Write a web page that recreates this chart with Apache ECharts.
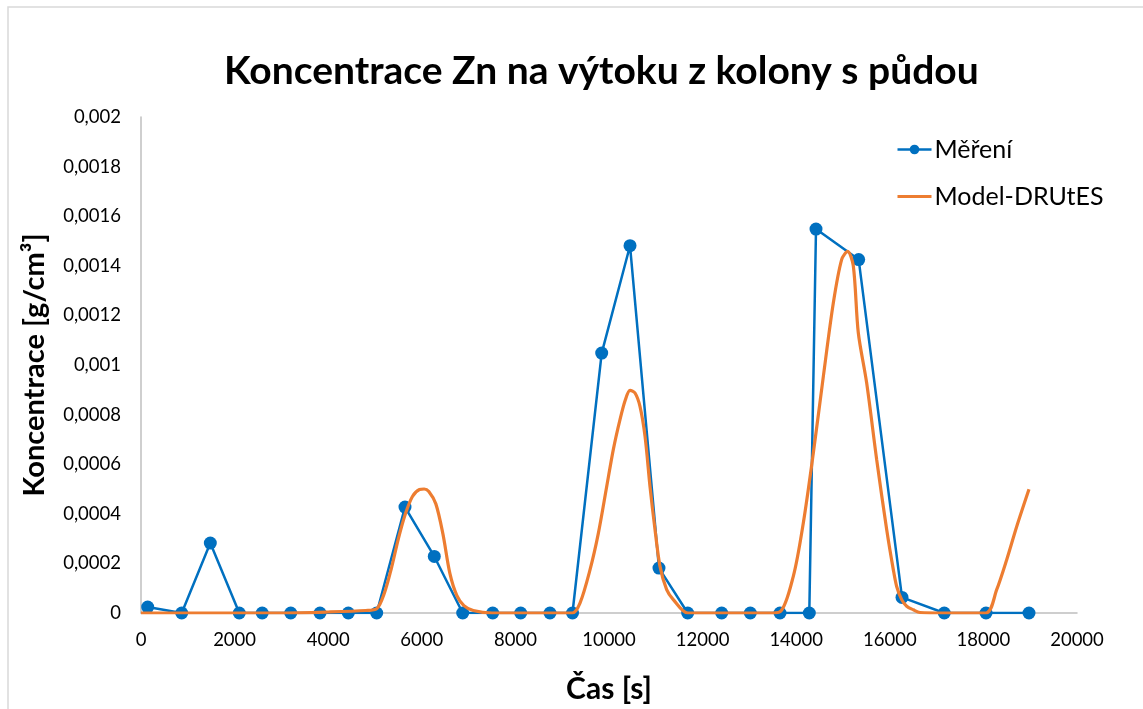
<!DOCTYPE html>
<html>
<head>
<meta charset="utf-8">
<script src="https://cdn.jsdelivr.net/npm/echarts@6/dist/echarts.min.js"></script>
<style>
  html, body { margin: 0; padding: 0; background: #fff; }
  #chart { width: 1143px; height: 709px; }
</style>
</head>
<body>
<div id="chart"></div>
<script>
// mereni (cas [s], koncentrace [g/cm3])
const mereniCas = [143, 870, 1481, 2100, 2590, 3200, 3825, 4430, 5036, 5641, 6267, 6874, 7515, 8113, 8739, 9220,
  9844, 10449, 11068, 11682, 12408, 13020, 13654, 14280, 14423, 15335, 16261, 17164, 18056, 18974];
const mereniKonc = [0.000024, 0, 0.000282, 0, 0, 0, 0, 0, 0, 0.000427, 0.000228, 0, 0, 0, 0, 0,
  0.001048, 0.001481, 0.000181, 0, 0, 0, 0, 0, 0.001548, 0.001425, 0.000063, 0, 0, 0];

// model DRUtES
const modelCas = [0, 1000, 2000, 3000, 4000, 4800, 5036, 5200, 5350, 5500, 5650, 5800, 5950, 6050, 6150, 6300, 6450,
  6600, 6750, 6900, 7100, 7500, 8500, 9216, 9380, 9594, 9771, 9951, 10093, 10235, 10350, 10449, 10556, 10662,
  10770, 10876, 10983, 11090, 11232, 11374, 11682, 12500, 13400, 13654, 13938, 14152, 14366, 14580, 14793,
  14971, 15100, 15220, 15327, 15506, 15720, 15934, 16075, 16147, 16254, 16361, 16502, 16645, 17179, 18056,
  18284, 18498, 18712, 18974];
const modelKonc = [0, 0, 0, 0, 0.000004, 0.00001, 0.000017, 0.00008, 0.00018, 0.0003, 0.0004, 0.00047, 0.000498,
  0.0005, 0.00049, 0.00044, 0.00032, 0.00016, 0.00007, 0.00003, 0.00001, 0, 0, 0, 0.00004, 0.000174, 0.00032,
  0.00051, 0.00066, 0.00078, 0.00086, 0.000898, 0.000887, 0.000833, 0.000712, 0.00051, 0.000336, 0.000188,
  0.000094, 0.000054, 0, 0, 0, 0.000005, 0.000148, 0.000363, 0.000645, 0.000954, 0.00125, 0.001425, 0.001458,
  0.0014, 0.00113, 0.000927, 0.000618, 0.000336, 0.000175, 0.000107, 0.000054, 0.000027, 0.000013, 0.000002,
  0, 0, 0.000094, 0.000215, 0.000349, 0.000499];

const xTicks = [0, 2000, 4000, 6000, 8000, 10000, 12000, 14000, 16000, 18000, 20000];

const font = 'Lato, "Open Sans", sans-serif';

function zip(a, b) {
  return a.map((v, i) => [v, b[i]]);
}

const chart = echarts.init(document.getElementById('chart'));
chart.setOption({
  animation: false,
  backgroundColor: '#fff',
  textStyle: { fontFamily: font },
  graphic: [{
    type: 'rect',
    shape: { x: 8, y: 7, width: 1200, height: 800 },
    style: { fill: 'none', stroke: '#d9d9d9', lineWidth: 1.5 },
    silent: true
  }],
  title: {
    text: 'Koncentrace Zn na výtoku z kolony s půdou',
    left: 219,
    top: 47,
    textStyle: { fontFamily: font, fontSize: 39, fontWeight: 'bold', color: '#000' }
  },
  legend: {
    orient: 'vertical',
    left: 891,
    top: 132,
    itemGap: 22,
    itemWidth: 34,
    itemHeight: 12,
    textStyle: { fontFamily: font, fontSize: 25, color: '#000', padding: [0, 0, 0, -2] },
    data: [
      { name: 'Měření', lineStyle: { width: 2.5 } },
      { name: 'Model-DRUtES', itemStyle: { opacity: 0 }, lineStyle: { width: 3 } }
    ]
  },
  grid: { left: 141, right: 66, top: 117, bottom: 96 },
  xAxis: {
    type: 'value',
    min: 0,
    max: 20000,
    interval: 2000,
    name: 'Čas [s]',
    nameLocation: 'middle',
    nameGap: 61,
    nameTextStyle: { fontFamily: font, fontSize: 30, fontWeight: 'bold', color: '#000' },
    axisLine: { lineStyle: { color: '#bfbfbf', width: 1.5 } },
    axisTick: { show: false },
    splitLine: { show: false },
    axisLabel: {
      fontSize: 18.5, color: '#000', margin: 18,
      formatter: v => xTicks.includes(v) ? String(v) : ''
    }
  },
  yAxis: {
    type: 'value',
    min: 0,
    max: 0.002,
    interval: 0.0002,
    name: 'Koncentrace [g/cm³]',
    nameLocation: 'middle',
    nameGap: 92,
    nameTextStyle: { fontFamily: font, fontSize: 29, fontWeight: 'bold', color: '#000' },
    axisLine: { show: true, lineStyle: { color: '#bfbfbf', width: 1.5 } },
    axisTick: { show: false },
    splitLine: { show: false },
    axisLabel: {
      fontSize: 18.5, color: '#000', margin: 20,
      formatter: v => v === 0 ? '0' : String(+v.toFixed(4)).replace('.', ',')
    }
  },
  series: [
    {
      name: 'Měření',
      type: 'line',
      data: zip(mereniCas, mereniKonc),
      symbol: 'circle',
      symbolSize: 13,
      itemStyle: { color: '#0070c0' },
      lineStyle: { color: '#0070c0', width: 2.5 },
      z: 2
    },
    {
      name: 'Model-DRUtES',
      type: 'line',
      data: zip(modelCas, modelKonc),
      symbol: 'none',
      smooth: 0.3,
      itemStyle: { color: '#ed7d31' },
      lineStyle: { color: '#ed7d31', width: 3.2 },
      z: 3
    }
  ]
});
</script>
</body>
</html>
